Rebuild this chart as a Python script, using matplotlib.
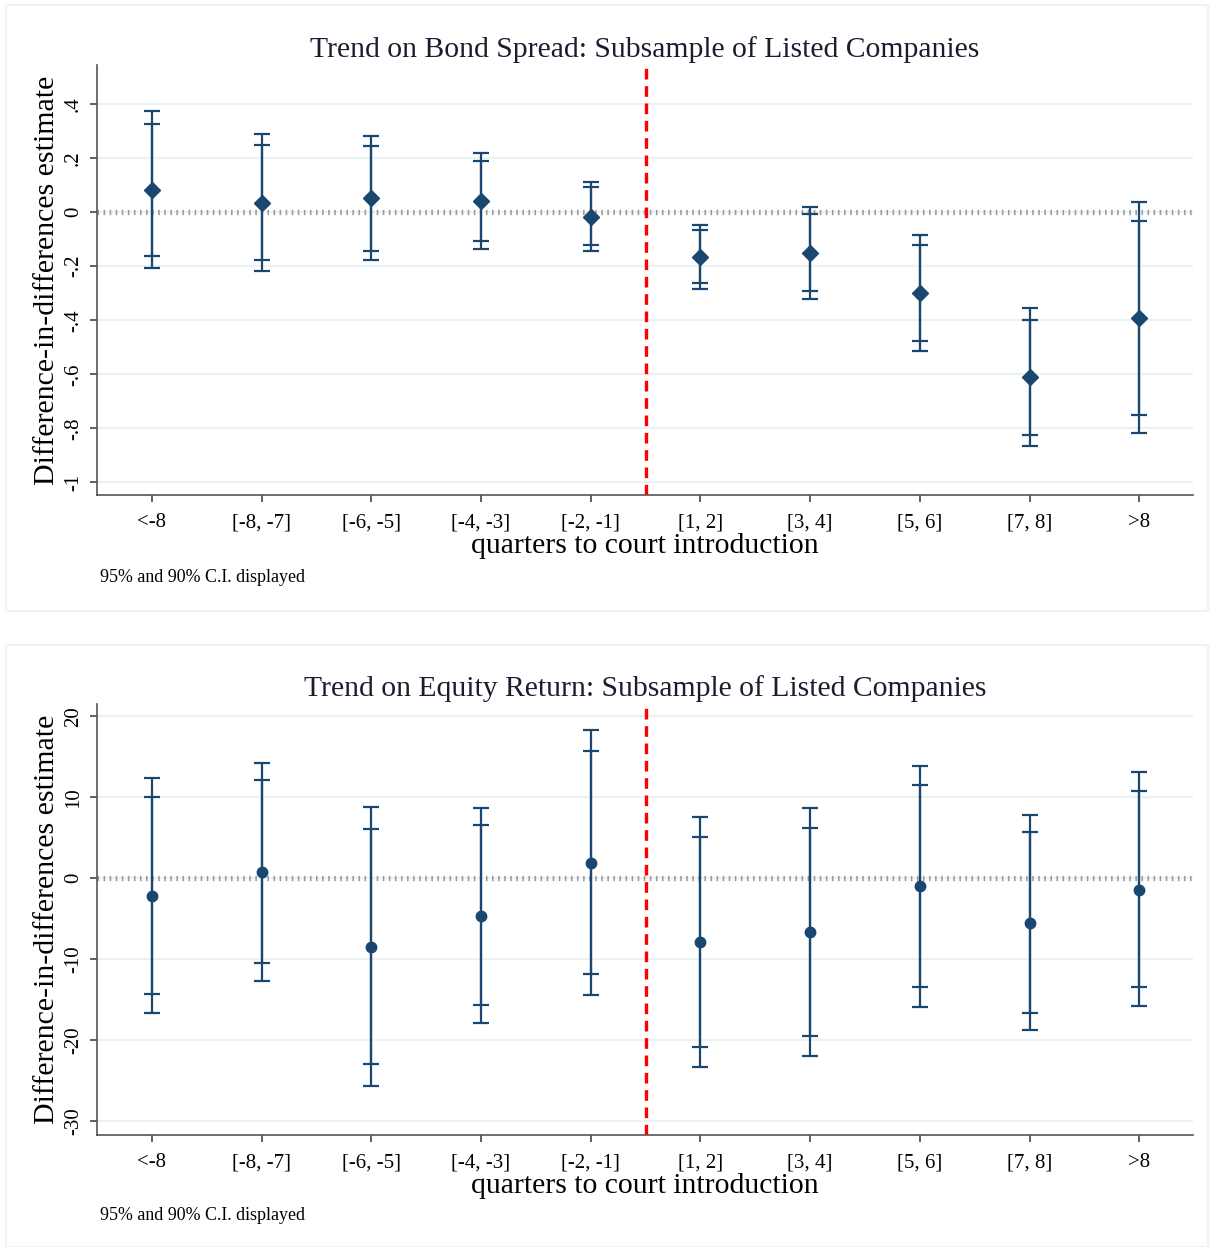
# IMPORT LIBRARY
import matplotlib
matplotlib.use("Agg")
import matplotlib.pyplot as plt
from matplotlib.patches import Rectangle
import numpy as np


# DATA
kategori = ["<-8", "[-8, -7]", "[-6, -5]", "[-4, -3]", "[-2, -1]",
            "[1, 2]", "[3, 4]", "[5, 6]", "[7, 8]", ">8"]

# Panel atas: bond spread
bond_est = [0.083, 0.033, 0.052, 0.042, -0.016, -0.167, -0.151, -0.300, -0.611, -0.390]
bond_hi95 = [0.373, 0.289, 0.281, 0.218, 0.112, -0.049, 0.021, -0.085, -0.356, 0.039]
bond_hi90 = [0.326, 0.248, 0.244, 0.191, 0.094, -0.067, -0.005, -0.121, -0.398, -0.031]
bond_lo90 = [-0.161, -0.178, -0.142, -0.106, -0.122, -0.263, -0.293, -0.478, -0.824, -0.750]
bond_lo95 = [-0.206, -0.219, -0.178, -0.136, -0.143, -0.283, -0.321, -0.514, -0.866, -0.819]
bond_ticks = [0.4, 0.2, 0, -0.2, -0.4, -0.6, -0.8, -1]
bond_ticklabels = [".4", ".2", "0", "-.2", "-.4", "-.6", "-.8", "-1"]

# Panel bawah: equity return
eq_est = [-2.14, 0.74, -8.44, -4.61, 1.93, -7.90, -6.63, -0.99, -5.48, -1.40]
eq_hi95 = [12.35, 14.27, 8.84, 8.72, 18.35, 7.57, 8.68, 13.90, 7.81, 13.12]
eq_hi90 = [10.00, 12.10, 6.09, 6.58, 15.72, 5.10, 6.21, 11.48, 5.68, 10.78]
eq_lo90 = [-14.24, -10.50, -22.90, -15.68, -11.81, -20.83, -19.43, -13.42, -16.59, -13.46]
eq_lo95 = [-16.59, -12.64, -25.70, -17.86, -14.45, -23.34, -21.90, -15.85, -18.77, -15.80]
eq_ticks = [20, 10, 0, -10, -20, -30]
eq_ticklabels = ["20", "10", "0", "-10", "-20", "-30"]

NAVY = "#1a476f"
plt.rcParams["font.family"] = ["Liberation Serif", "DejaVu Serif"]


# FUNCTIONS
def panel(fig, rect, judul, est, hi95, hi90, lo90, lo95, ticks, ticklabels, ylim, marker):
    ax = fig.add_axes(rect)
    x = np.arange(1, len(kategori) + 1)
    est = np.array(est)

    # grid horizontal
    for t in ticks:
        ax.axhline(t, color="#eaf2f3", lw=1.6, zorder=0)

    # garis nol
    ax.axhline(0, color="#9a9a9a", lw=3.8, linestyle=(0, (0.3, 0.85)),
               dash_capstyle="butt", zorder=1)

    # garis intro
    ax.axvline(5.5, color="#ff0000", lw=2.4, linestyle=(0, (3.2, 2.0)), zorder=2)

    # CI 95% dan 90%
    ax.errorbar(x, est, yerr=[est - np.array(lo95), np.array(hi95) - est], fmt="none",
                ecolor=NAVY, elinewidth=1.6, capsize=5.5, capthick=1.6, zorder=3)
    ax.errorbar(x, est, yerr=[est - np.array(lo90), np.array(hi90) - est], fmt="none",
                ecolor=NAVY, elinewidth=1.6, capsize=5.5, capthick=1.6, zorder=3)
    ms = 8 if marker == "D" else 7.5
    ax.plot(x, est, marker, color=NAVY, ms=ms, zorder=4)

    ax.set_xlim(0.5, 10.49)
    ax.set_ylim(*ylim)
    ax.set_xticks(x)
    ax.set_xticklabels(kategori, fontsize=15)
    ax.set_yticks(ticks)
    ax.set_yticklabels(ticklabels, fontsize=15, rotation=90, va="center")
    ax.tick_params(axis="both", length=5, width=1.2, color="#444444", pad=5)
    ax.tick_params(axis="x", pad=8)

    for s in ["top", "right"]:
        ax.spines[s].set_visible(False)
    for s in ["left", "bottom"]:
        ax.spines[s].set_color("#555555")
        ax.spines[s].set_linewidth(1.2)

    ax.set_title(judul, fontsize=21.3, pad=6, color="#1c1c2e")
    ax.set_xlabel("quarters to court introduction", fontsize=21.3, labelpad=1)
    ax.set_ylabel("Difference-in-differences estimate", fontsize=21.5, labelpad=3)
    return ax


def execute():
    fig = plt.figure(figsize=(12.13, 12.47), dpi=100)

    # kotak latar panel
    for y0, h in [(1 - 611 / 1247, 606 / 1247), (0.0, 602 / 1247)]:
        fig.patches.append(Rectangle((6 / 1213, y0), 1202 / 1213, h, transform=fig.transFigure,
                                     facecolor="white", edgecolor="#eef3f5", lw=1.5, zorder=-5))

    panel(fig, [97 / 1213, 1 - 495 / 1247, 1096 / 1213, 430 / 1247],
          "Trend on Bond Spread: Subsample of Listed Companies",
          bond_est, bond_hi95, bond_hi90, bond_lo90, bond_lo95,
          bond_ticks, bond_ticklabels, (-1.047, 0.545), "D")
    fig.text(100 / 1213, 1 - 577 / 1247, "95% and 90% C.I. displayed", fontsize=12.9, va="center")

    panel(fig, [97 / 1213, 1 - 1135 / 1247, 1096 / 1213, 431 / 1247],
          "Trend on Equity Return: Subsample of Listed Companies",
          eq_est, eq_hi95, eq_hi90, eq_lo90, eq_lo95,
          eq_ticks, eq_ticklabels, (-31.7, 21.5), "o")
    fig.text(100 / 1213, 1 - 1216 / 1247, "95% and 90% C.I. displayed", fontsize=12.9, va="center")

    fig.savefig("out.png", dpi=100)


# EXECUTE
if __name__ == "__main__":
    execute()
